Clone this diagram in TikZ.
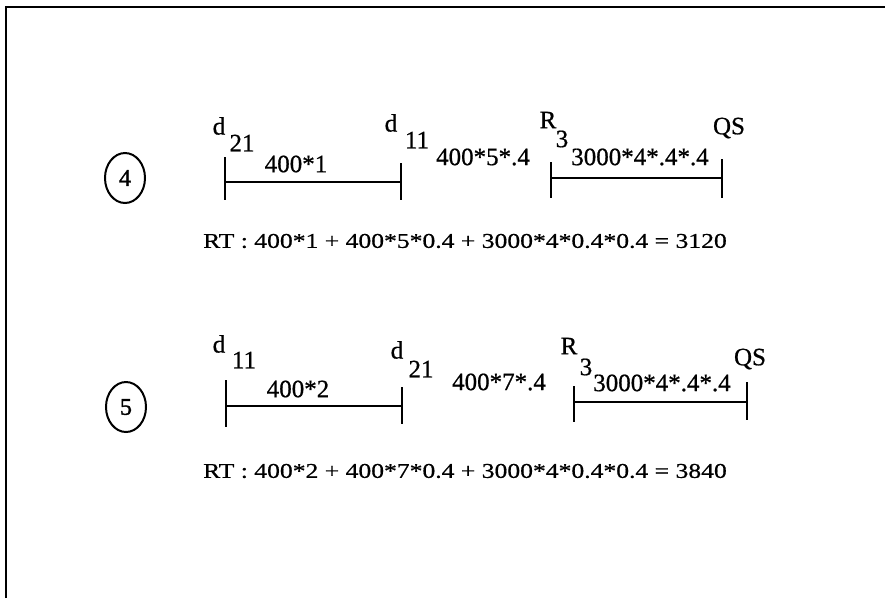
\documentclass[tikz,border=0pt]{standalone}
\usepackage{fontspec}
\setmainfont[FakeBold=0.7]{Liberation Serif}
\newfontfamily\rtfont[FakeStretch=1.22,FakeBold=0.7]{Liberation Serif}
\newfontfamily\circfont[FakeBold=1.5]{Liberation Serif}
\usetikzlibrary{shapes.geometric}
\begin{document}
\begin{tikzpicture}[x=1pt,y=-1pt,
  lbl/.style={inner sep=0pt,anchor=center,font=\fontsize{25}{25}\selectfont},
  rt/.style={inner sep=0pt,anchor=center,font=\rtfont\fontsize{21}{21}\selectfont},
  num/.style={draw,ellipse,line width=2pt,minimum width=40pt,minimum height=50pt,inner sep=0pt,font=\circfont\fontsize{24}{24}\selectfont},
  seg/.style={line width=2.2pt},
  tick/.style={line width=1.6pt}]
\useasboundingbox (0,0) rectangle (885,598);
% frame
\coordinate (f1) at (6,598);
\coordinate (f2) at (6,7);
\coordinate (f3) at (885,7);
\draw[line width=2.8pt] (f1) -- (f2) -- (f3);

% ---------- row 4 ----------
\node[num] (c4) at (125,178) {4};
\node[lbl] (a1) at (219,126) {d};
\node[lbl] (a2) at (242,143) {21};
\node[lbl] (a3) at (296,164) {400*1};
\node[lbl] (a4) at (391,123) {d};
\node[lbl] (a5) at (417,140) {11};
\node[lbl] (a6) at (483,157) {400*5*.4};
\node[lbl] (a7) at (548,120) {R};
\node[lbl] (a8) at (562,139) {3};
\node[lbl] (a9) at (640,157) {3000*4*.4*.4};
\node[lbl] (a10) at (729,128) {QS};
\coordinate (p1t) at (225,157); \coordinate (p1b) at (225,200);
\coordinate (p2t) at (401,163); \coordinate (p2b) at (401,200);
\coordinate (p1m) at (225,182); \coordinate (p2m) at (401,182);
\draw[tick] (p1t) -- (p1b);
\draw[tick] (p2t) -- (p2b);
\draw[seg] (p1m) -- (p2m);
\coordinate (q1t) at (551,162); \coordinate (q1b) at (551,198);
\coordinate (q2t) at (722,159); \coordinate (q2b) at (722,198);
\coordinate (q1m) at (551,178); \coordinate (q2m) at (722,178);
\draw[tick] (q1t) -- (q1b);
\draw[tick] (q2t) -- (q2b);
\draw[seg] (q1m) -- (q2m);
\node[rt] (rt1) at (465,241) {RT : 400*1 + 400*5*0.4 + 3000*4*0.4*0.4 = 3120};

% ---------- row 5 ----------
\node[num] (c5) at (126,407) {5};
\node[lbl] (b1) at (219,344) {d};
\node[lbl] (b2) at (244,360) {11};
\node[lbl] (b3) at (298,389) {400*2};
\node[lbl] (b4) at (397,350) {d};
\node[lbl] (b5) at (421,369) {21};
\node[lbl] (b6) at (499,382) {400*7*.4};
\node[lbl] (b7) at (569,346) {R};
\node[lbl] (b8) at (586,367) {3};
\node[lbl] (b9) at (662,383) {3000*4*.4*.4};
\node[lbl] (b10) at (750,359) {QS};
\coordinate (r1t) at (226,380); \coordinate (r1b) at (226,427);
\coordinate (r2t) at (402,387); \coordinate (r2b) at (402,424);
\coordinate (r1m) at (226,406); \coordinate (r2m) at (402,406);
\draw[tick] (r1t) -- (r1b);
\draw[tick] (r2t) -- (r2b);
\draw[seg] (r1m) -- (r2m);
\coordinate (s1t) at (574,386); \coordinate (s1b) at (574,422);
\coordinate (s2t) at (747,382); \coordinate (s2b) at (747,420);
\coordinate (s1m) at (574,402); \coordinate (s2m) at (747,402);
\draw[tick] (s1t) -- (s1b);
\draw[tick] (s2t) -- (s2b);
\draw[seg] (s1m) -- (s2m);
\node[rt] (rt2) at (465,471) {RT : 400*2 + 400*7*0.4 + 3000*4*0.4*0.4 = 3840};
\end{tikzpicture}
\end{document}
